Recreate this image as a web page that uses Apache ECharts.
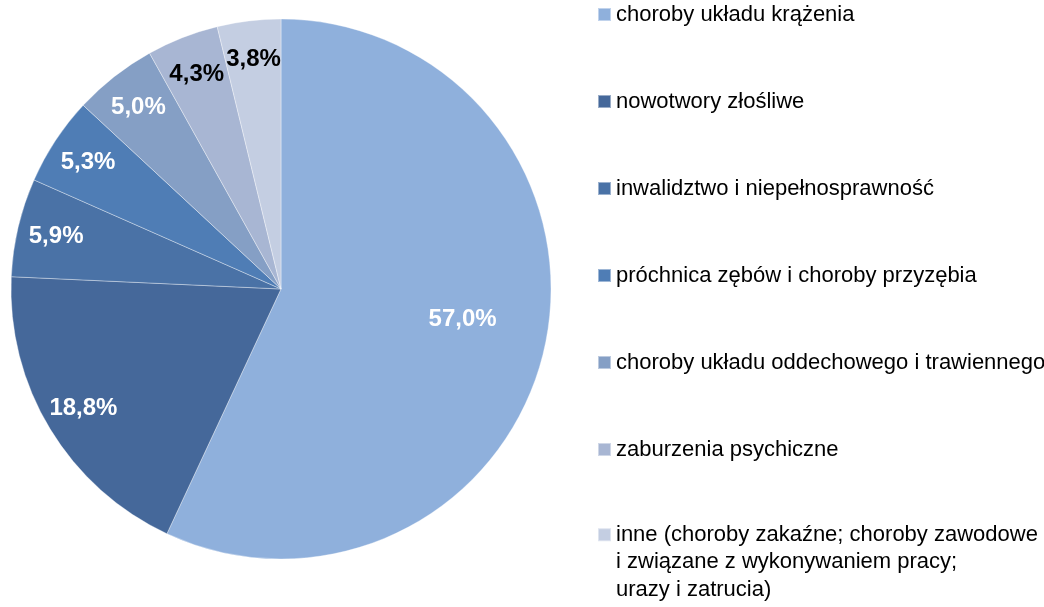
<!DOCTYPE html>
<html>
<head>
<meta charset="utf-8">
<script src="https://cdn.jsdelivr.net/npm/echarts@6/dist/echarts.min.js"></script>
<style>
  html, body { margin: 0; padding: 0; background: #fff; }
  #chart { width: 1044px; height: 607px; }
</style>
</head>
<body>
<div id="chart"></div>
<script>
const categories = [
  "choroby układu krążenia",
  "nowotwory złośliwe",
  "inwalidztwo i niepełnosprawność",
  "próchnica zębów i choroby przyzębia",
  "choroby układu oddechowego i trawiennego",
  "zaburzenia psychiczne",
  "inne (choroby zakaźne; choroby zawodowe i związane z wykonywaniem pracy; urazy i zatrucia)",
];
const shares = [57.0, 18.8, 5.9, 5.3, 5.0, 4.3, 3.8];

const colors = ["#8FB0DC", "#45689A", "#4A72A6", "#4F7DB5", "#859FC5", "#A8B6D3", "#C4CEE2"];
const labelColors = ["#fff", "#fff", "#fff", "#fff", "#fff", "#000", "#000"];

const fmt = (v) => v.toFixed(1).replace(".", ",") + "%";
const labelFont = {
  fontFamily: "'Liberation Sans Narrow', 'Arial Narrow', 'Liberation Sans', sans-serif",
  fontWeight: "bold",
  fontSize: 24,
};
const legendFont = {
  fontFamily: "'Liberation Sans', Arial, sans-serif",
  fontSize: 22,
  color: "#000",
};

// label-only overlay: big slice gets its label nearer the centre
const labelData = (pick) =>
  categories.map((name, i) => ({
    name: name,
    value: shares[i],
    label: { show: pick(i), color: labelColors[i] },
  }));

const labelSeries = (radius, pick, dy) => ({
  type: "pie",
  center: [281, 289],
  radius: radius,
  startAngle: 90,
  silent: true,
  avoidLabelOverlap: false,
  labelLayout: { hideOverlap: false, dy: dy },
  itemStyle: { color: "transparent" },
  label: Object.assign({ position: "inside", formatter: (p) => fmt(p.value) }, labelFont),
  labelLine: { show: false },
  data: labelData(pick),
});

const chart = echarts.init(document.getElementById("chart"));
chart.setOption({
  animation: false,
  legend: [
    {
      orient: "vertical",
      left: 597,
      top: 0,
      padding: 0,
      itemWidth: 13,
      itemHeight: 13,
      itemGap: 58,
      icon: "rect",
      selectedMode: false,
      data: categories.slice(0, 6),
      textStyle: Object.assign({ lineHeight: 29 }, legendFont),
    },
    {
      orient: "vertical",
      left: 597,
      top: 466,
      padding: 0,
      itemWidth: 13,
      itemHeight: 13,
      icon: "rect",
      selectedMode: false,
      data: categories.slice(6),
      formatter: () =>
        "\n\ninne (choroby zakaźne; choroby zawodowe\ni związane z wykonywaniem pracy;\nurazy i zatrucia)",
      textStyle: Object.assign({ lineHeight: 27.5 }, legendFont),
    },
  ],
  series: [
    {
      type: "pie",
      center: [281, 289],
      radius: [0, 270],
      startAngle: 90,
      silent: true,
      label: { show: false },
      labelLine: { show: false },
      itemStyle: { borderColor: "rgba(255,255,255,0.45)", borderWidth: 0.8 },
      data: categories.map((name, i) => ({
        name: name,
        value: shares[i],
        itemStyle: { color: colors[i] },
      })),
    },
    labelSeries([96, 270], (i) => i === 0, -10),
    labelSeries([186, 270], (i) => i !== 0, 0),
  ],
});
</script>
</body>
</html>
